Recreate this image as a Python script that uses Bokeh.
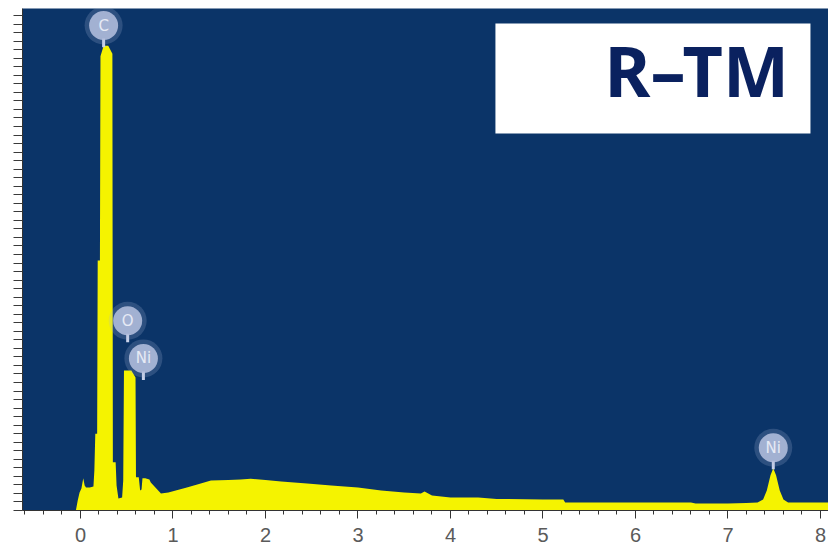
from bokeh.plotting import figure
from bokeh.models import Range1d, SingleIntervalTicker, FixedTicker, Label, BoxAnnotation, ColumnDataSource
from bokeh.core.properties import value
from bokeh.embed import file_html
from bokeh.resources import INLINE

# EDS spectrum of the R-TM sample: energy (keV) vs. counts (arbitrary units)
energy_kev = [
    -0.05, -0.03, -0.01, 0.01, 0.03, 0.045, 0.06, 0.10, 0.14, 0.150, 0.160,
    0.180, 0.186, 0.210, 0.216, 0.25, 0.30, 0.345, 0.350, 0.380, 0.390, 0.410, 0.450, 0.462, 0.470,
    0.50, 0.55, 0.595, 0.600, 0.630, 0.645, 0.660, 0.670, 0.700, 0.745, 0.760, 0.810, 0.870, 0.950, 1.030,
    1.150, 1.300, 1.410, 1.600, 1.730, 1.840, 2.000, 2.170, 2.450, 2.710, 3.000, 3.250, 3.500, 3.680, 3.720,
    3.760, 3.800, 3.900, 4.000, 4.300, 4.500, 5.000, 5.220, 5.240, 5.600, 6.000, 6.600, 6.650, 7.000, 7.200, 7.320,
    7.380, 7.420, 7.460, 7.490, 7.520, 7.560, 7.600, 7.650, 8.000, 8.120,
]
counts = [
    0.0, 2.0, 3.6, 4.4, 6.4, 5.0, 4.6, 4.6, 4.8, 8.0, 15.3,
    15.3, 49.8, 49.8, 90.5, 92.6, 92.6, 91.0, 9.6, 9.6, 5.0, 2.4, 2.6, 6.0, 27.9,
    27.9, 27.9, 26.5, 6.6, 6.6, 4.0, 4.2, 6.4, 6.4, 6.2, 5.6, 4.6, 3.4, 3.6, 4.0,
    4.6, 5.4, 6.0, 6.1, 6.2, 6.3, 6.1, 5.8, 5.4, 5.0, 4.6, 4.0, 3.6, 3.4, 3.8,
    3.4, 3.0, 2.8, 2.6, 2.6, 2.3, 2.2, 2.2, 1.6, 1.6, 1.6, 1.6, 1.4, 1.4, 1.5, 1.6,
    2.2, 4.0, 7.0, 8.4, 7.0, 4.0, 2.2, 1.6, 1.6, 1.6,
]

# identified emission lines
line_names = ["C", "O", "Ni", "Ni"]
line_kev = [0.25, 0.51, 0.68, 7.49]

NAVY = "#0b3468"
YELLOW = "#f5f300"

p = figure(width=828, height=551, output_backend="svg", toolbar_location=None,
           x_range=Range1d(-0.627, 8.087), y_range=Range1d(0, 100),
           min_border_left=22, min_border_right=0, min_border_top=8, min_border_bottom=41)
p.background_fill_color = NAVY
p.border_fill_color = "white"
p.outline_line_color = None
p.xgrid.grid_line_color = None
p.ygrid.grid_line_color = None

# spectrum
p.varea(x=energy_kev, y1=0, y2=counts, fill_color=YELLOW)

# element markers: stem, halo, disc and symbol
label_y = [96.6, 37.8, 30.3, 12.5]
src = ColumnDataSource(dict(x=line_kev, y=label_y, name=line_names,
                            s0=[yy - 2.6 for yy in label_y],
                            s1=[yy - 4.3 for yy in label_y]))
p.segment(x0="x", y0="s0", x1="x", y1="s1", source=src, line_color="#c9d2ea", line_width=3)
p.scatter(x="x", y="y", source=src, size=38, fill_color="#aab6d8", fill_alpha=0.22, line_color=None)
p.scatter(x="x", y="y", source=src, size=29, fill_color="#b3bedd", fill_alpha=0.88, line_color=None)
p.text(x="x", y="y", text="name", source=src, text_align="center", text_baseline="middle",
       text_font=value("DejaVu Sans"), text_font_size="15px", text_color="#e6eaf5")

# sample tag
p.add_layout(BoxAnnotation(left=4.486, right=7.892, bottom=75.1, top=97.0,
                           fill_color="white", fill_alpha=1.0, line_alpha=0))
p.add_layout(Label(x=7.66, y=87.7, text="R\u2013TM", text_align="right", text_baseline="alphabetic",
                   text_font="Noto Sans", text_font_style="bold", text_font_size="70px",
                   text_color="#0a215f"))

# axes
xa = p.xaxis[0]
xa.ticker = SingleIntervalTicker(interval=1, num_minor_ticks=5)
xa.major_tick_out = 8
xa.major_tick_in = 0
xa.minor_tick_out = 4
xa.minor_tick_in = 0
xa.major_tick_line_color = "#333333"
xa.minor_tick_line_color = "#333333"
xa.axis_line_color = "#333333"
xa.major_label_standoff = 9
xa.major_label_text_font = "Liberation Sans"
xa.major_label_text_font_size = "20px"
xa.major_label_text_color = "#5a5a5a"

# unlabelled count axis: only dense outward ticks
ya = p.yaxis[0]
ya.ticker = FixedTicker(ticks=[], minor_ticks=[k * 1.7 for k in range(59)])
ya.minor_tick_out = 9
ya.minor_tick_in = 0
ya.minor_tick_line_color = "#3a3a3a"
ya.axis_line_color = "#333333"
ya.major_label_standoff = 0

open("out.html", "w").write(file_html(p, INLINE))
